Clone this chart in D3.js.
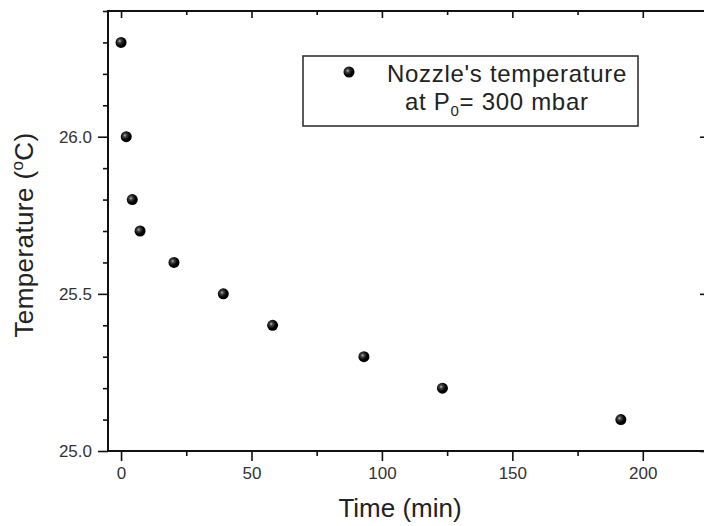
<!DOCTYPE html>
<html>
<head>
<meta charset="utf-8">
<script src="https://cdn.jsdelivr.net/npm/d3@7"></script>
<style>
  body { margin: 0; background: #fff; }
  svg { display: block; font-family: "Liberation Sans", Arial, sans-serif; }
  .axis path, .axis line { stroke: #111; }
  .axis text { fill: #333; font-size: 17px; }
</style>
</head>
<body>
<div id="chart"></div>
<script>
// values
const timeMin = [0, 2, 4.3, 7.3, 20.3, 39.2, 58.1, 93.1, 123.2, 191.6];
const tempC = [26.3, 26.0, 25.8, 25.7, 25.6, 25.5, 25.4, 25.3, 25.2, 25.1];

const xMajor = [0, 50, 100, 150, 200];
const xMinor = [-5, 25, 75, 125, 175, 225];
const yMajor = [25.0, 25.5, 26.0];
const yMinor = [25.1, 25.2, 25.3, 25.4, 25.6, 25.7, 25.8, 25.9, 26.1, 26.2, 26.3, 26.4];

const legendLine1 = "Nozzle's temperature";

const width = 704, height = 526;
const margin = {top: 11, right: -4, bottom: 75, left: 108};

function main() {
    const svg = d3.select("#chart")
        .append("svg")
        .attr("width", width)
        .attr("height", height);

    const x = d3.scaleLinear()
        .domain([-5, 225])
        .range([margin.left, width - margin.right]);

    const y = d3.scaleLinear()
        .domain([25.0, 26.4])
        .range([height - margin.bottom, margin.top]);

    const x0 = margin.left, x1 = width - margin.right;
    const y0 = height - margin.bottom, y1 = margin.top;

    // sphere-like marker fill
    const grad = svg.append("defs")
        .append("radialGradient")
        .attr("id", "ball")
        .attr("cx", "38%").attr("cy", "38%").attr("r", "60%");
    grad.append("stop").attr("offset", "0%").attr("stop-color", "#bbb");
    grad.append("stop").attr("offset", "25%").attr("stop-color", "#444");
    grad.append("stop").attr("offset", "70%").attr("stop-color", "#000");

    const inner = d => d > -5 && d < 225;

    // bottom axis, outward ticks
    svg.append("g")
        .attr("class", "axis")
        .attr("transform", `translate(0,${y0})`)
        .call(d3.axisBottom(x).tickValues(xMajor).tickSize(10).tickPadding(6)
            .tickFormat(d3.format("d")))
        .call(g => g.select(".domain").remove());
    svg.append("g")
        .attr("class", "axis")
        .attr("transform", `translate(0,${y0})`)
        .call(d3.axisBottom(x).tickValues(xMinor.filter(inner))
            .tickSize(5).tickFormat(""))
        .call(g => g.select(".domain").remove());

    // left axis, outward ticks
    svg.append("g")
        .attr("class", "axis")
        .attr("transform", `translate(${x0},0)`)
        .call(d3.axisLeft(y).tickValues(yMajor).tickSize(10).tickPadding(6)
            .tickFormat(d3.format(".1f")))
        .call(g => g.select(".domain").remove());
    svg.append("g")
        .attr("class", "axis")
        .attr("transform", `translate(${x0},0)`)
        .call(d3.axisLeft(y).tickValues(yMinor).tickSize(5).tickFormat(""))
        .call(g => g.select(".domain").remove());

    // top axis, inward ticks
    svg.append("g")
        .attr("class", "axis")
        .attr("transform", `translate(0,${y1})`)
        .call(d3.axisBottom(x).tickValues(xMajor).tickSize(7).tickFormat(""))
        .call(g => g.select(".domain").remove());
    svg.append("g")
        .attr("class", "axis")
        .attr("transform", `translate(0,${y1})`)
        .call(d3.axisBottom(x).tickValues(xMinor.filter(inner))
            .tickSize(4).tickFormat(""))
        .call(g => g.select(".domain").remove());

    // right axis, inward ticks
    svg.append("g")
        .attr("class", "axis")
        .attr("transform", `translate(${x1},0)`)
        .call(d3.axisLeft(y).tickValues(yMajor).tickSize(8).tickFormat(""))
        .call(g => g.select(".domain").remove());
    svg.append("g")
        .attr("class", "axis")
        .attr("transform", `translate(${x1},0)`)
        .call(d3.axisLeft(y).tickValues(yMinor).tickSize(4).tickFormat(""))
        .call(g => g.select(".domain").remove());

    svg.selectAll(".axis line").attr("stroke-width", 1.6);

    // frame
    svg.append("rect")
        .attr("x", x0).attr("y", y1)
        .attr("width", x1 - x0).attr("height", y0 - y1)
        .attr("fill", "none")
        .attr("stroke", "#111")
        .attr("stroke-width", 2);

    // axis titles
    svg.append("text")
        .attr("x", (x0 + 692) / 2)
        .attr("y", 517)
        .attr("text-anchor", "middle")
        .attr("font-size", 26)
        .attr("fill", "#222")
        .text("Time (min)");

    const yt = svg.append("text")
        .attr("transform", `translate(33,${(y0 + y1) / 2 + 4}) rotate(-90)`)
        .attr("text-anchor", "middle")
        .attr("font-size", 26)
        .attr("letter-spacing", 0.4)
        .attr("fill", "#222");
    yt.append("tspan").text("Temperature (");
    yt.append("tspan").attr("font-size", 17).attr("dy", -10).text("o");
    yt.append("tspan").attr("dy", 10).text("C)");

    // data points
    svg.append("g")
        .selectAll("circle")
        .data(timeMin.map((t, i) => ({t: t, v: tempC[i]})))
        .enter()
        .append("circle")
        .attr("cx", d => x(d.t))
        .attr("cy", d => y(d.v))
        .attr("r", 5.5)
        .attr("fill", "url(#ball)");

    // legend
    const lg = svg.append("g").attr("transform", "translate(303,56)");
    lg.append("rect")
        .attr("width", 335).attr("height", 70)
        .attr("fill", "#fff")
        .attr("stroke", "#333")
        .attr("stroke-width", 1.6);
    lg.append("circle")
        .attr("cx", 46).attr("cy", 16).attr("r", 5.5)
        .attr("fill", "url(#ball)");
    lg.append("text")
        .attr("x", 84).attr("y", 26)
        .attr("font-size", 24)
        .attr("letter-spacing", 0.7)
        .attr("fill", "#222")
        .text(legendLine1);
    const l2 = lg.append("text")
        .attr("x", 102).attr("y", 54)
        .attr("font-size", 24)
        .attr("letter-spacing", 0.7)
        .attr("fill", "#222");
    l2.append("tspan").text("at P");
    l2.append("tspan").attr("font-size", 15).attr("dy", 6).text("0");
    l2.append("tspan").attr("dy", -6).text("= 300 mbar");
}

main();
</script>
</body>
</html>
